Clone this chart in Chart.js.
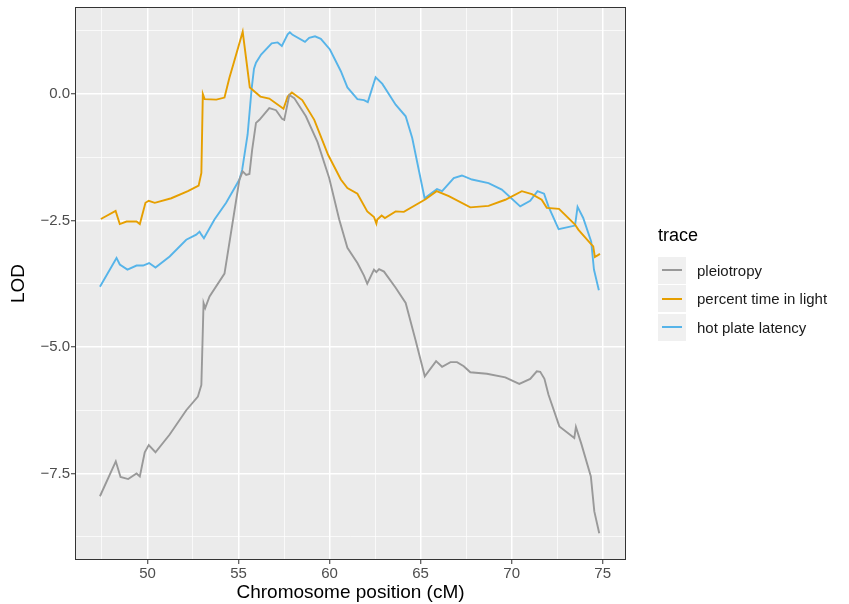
<!DOCTYPE html>
<html>
<head>
<meta charset="utf-8">
<script src="https://cdn.jsdelivr.net/npm/chart.js@4.4.1/dist/chart.umd.min.js"></script>
<style>
    body { margin: 0; background: #ffffff; font-family: "Liberation Sans", Arial, sans-serif; }
    #wrap { position: relative; width: 849px; height: 604px; }
    #legend { position: absolute; left: 658px; top: 222px; }
    #legend .title { font-size: 18px; color: #000; height: 34px; line-height: 26px; }
    #legend .row { display: flex; align-items: center; height: 28.5px; }
    #legend .key { width: 28px; height: 27px; background: #f0f0f0; position: relative; margin-right: 11px; }
    #legend .key span { position: absolute; left: 4px; right: 4px; top: 12.5px; height: 2px; }
    #legend .label { font-size: 15px; color: #1a1a1a; }
</style>
</head>
<body>
<div id="wrap">
    <canvas id="chart" width="849" height="604"></canvas>
    <div id="legend"></div>
</div>
<script>
// chromosome position (cM) and LOD for each trace
const pleioPos = [47.39, 48.26, 48.52, 48.94, 49.4, 49.58, 49.85, 50.07, 50.44, 51.22, 52.13, 52.77, 52.96, 53.08, 53.17, 53.41, 54.23, 55.05, 55.23, 55.42, 55.6, 55.75, 55.96, 56.15, 56.69, 57.06, 57.39, 57.51, 57.79, 58.06, 58.7, 59.34, 59.98, 60.53, 60.98, 61.53, 61.89, 62.07, 62.44, 62.57, 62.72, 62.99, 63.63, 64.18, 64.72, 65.23, 65.85, 66.18, 66.64, 67.0, 67.37, 67.73, 68.64, 69.65, 70.42, 71.02, 71.38, 71.57, 71.8, 72.02, 72.62, 73.44, 73.53, 73.84, 74.35, 74.54, 74.81];
const pleioLod = [-7.95, -7.26, -7.57, -7.61, -7.5, -7.56, -7.08, -6.94, -7.08, -6.73, -6.25, -5.98, -5.75, -4.13, -4.23, -4.0, -3.55, -1.69, -1.53, -1.6, -1.58, -1.1, -0.57, -0.51, -0.28, -0.32, -0.49, -0.51, -0.02, -0.08, -0.44, -0.95, -1.66, -2.48, -3.04, -3.34, -3.59, -3.75, -3.47, -3.52, -3.46, -3.51, -3.83, -4.13, -4.86, -5.58, -5.28, -5.39, -5.3, -5.3, -5.38, -5.5, -5.53, -5.6, -5.73, -5.63, -5.48, -5.49, -5.63, -5.94, -6.57, -6.8, -6.58, -6.93, -7.56, -8.25, -8.68];

const lightPos = [47.44, 48.25, 48.48, 48.85, 49.4, 49.58, 49.89, 50.07, 50.4, 51.31, 52.22, 52.81, 52.96, 53.04, 53.14, 53.78, 54.23, 54.5, 54.74, 55.23, 55.62, 56.2, 56.69, 57.47, 57.7, 57.93, 58.5, 59.16, 59.92, 60.62, 60.98, 61.53, 62.07, 62.44, 62.57, 62.62, 62.86, 63.04, 63.63, 64.08, 65.27, 65.88, 66.55, 67.73, 68.73, 69.65, 70.56, 71.11, 71.65, 71.93, 72.6, 73.48, 73.66, 74.3, 74.48, 74.57, 74.72, 74.85];
const lightLod = [-2.47, -2.31, -2.57, -2.52, -2.52, -2.57, -2.15, -2.11, -2.15, -2.06, -1.92, -1.81, -1.56, 0.0, -0.1, -0.11, -0.07, 0.32, 0.62, 1.23, 0.13, -0.05, -0.09, -0.29, -0.05, 0.03, -0.12, -0.51, -1.2, -1.69, -1.86, -1.97, -2.32, -2.43, -2.56, -2.48, -2.4, -2.45, -2.32, -2.33, -2.08, -1.92, -2.02, -2.24, -2.21, -2.09, -1.92, -1.98, -2.09, -2.25, -2.27, -2.58, -2.68, -2.94, -3.01, -3.22, -3.19, -3.16];

const hotPos = [47.39, 48.3, 48.48, 48.9, 49.4, 49.76, 50.09, 50.44, 51.22, 52.13, 52.68, 52.86, 52.96, 53.1, 53.68, 54.32, 55.05, 55.2, 55.5, 55.72, 55.85, 55.96, 56.24, 56.82, 57.15, 57.38, 57.7, 57.82, 57.97, 58.65, 58.88, 59.2, 59.52, 60.02, 60.62, 60.98, 61.53, 61.89, 62.1, 62.53, 62.9, 63.63, 64.18, 64.54, 65.22, 65.9, 66.18, 66.82, 67.27, 67.82, 68.73, 69.46, 70.47, 71.02, 71.42, 71.78, 72.02, 72.58, 73.48, 73.62, 73.93, 74.37, 74.52, 74.79];
const hotLod = [-3.81, -3.24, -3.37, -3.47, -3.39, -3.39, -3.34, -3.43, -3.21, -2.88, -2.78, -2.72, -2.78, -2.85, -2.48, -2.15, -1.69, -1.5, -0.8, 0.1, 0.5, 0.62, 0.78, 1.0, 1.02, 0.95, 1.18, 1.22, 1.17, 1.03, 1.11, 1.14, 1.09, 0.88, 0.45, 0.13, -0.1, -0.12, -0.16, 0.33, 0.2, -0.21, -0.44, -0.87, -2.06, -1.88, -1.92, -1.66, -1.61, -1.69, -1.76, -1.89, -2.22, -2.11, -1.92, -1.97, -2.22, -2.67, -2.6, -2.23, -2.45, -2.92, -3.47, -3.88];

const traceNames = ["pleiotropy", "percent time in light", "hot plate latency"];
const traceColors = ["#999999", "#E69F00", "#56B4E9"];

const xMajor = [50, 55, 60, 65, 70, 75];
const xMinor = [47.5, 52.5, 57.5, 62.5, 67.5, 72.5];
const yMajor = [0, -2.5, -5, -7.5];
const yMinor = [1.25, -1.25, -3.75, -6.25, -8.75];

const FONT = '"Liberation Sans", Arial, sans-serif';

function toPoints(xs, ys) {
    return xs.map((x, i) => ({ x: x, y: ys[i] }));
}

function setTicks(major, minor) {
    return function(scale) {
        scale.ticks = major.concat(minor).sort((a, b) => a - b).map(v => ({ value: v, major: major.includes(v) }));
    };
}

function isMajor(ctx, list) {
    return ctx.tick && list.includes(ctx.tick.value);
}

// grey panel behind the lines and the dark frame around it
const panelPlugin = {
    id: "panel",
    beforeDraw(chart) {
        const a = chart.chartArea;
        const ctx = chart.ctx;
        ctx.save();
        ctx.fillStyle = "#EBEBEB";
        ctx.fillRect(a.left, a.top, a.right - a.left, a.bottom - a.top);
        ctx.restore();
    },
    afterDraw(chart) {
        const a = chart.chartArea;
        const ctx = chart.ctx;
        ctx.save();
        ctx.strokeStyle = "#333333";
        ctx.lineWidth = 1;
        ctx.strokeRect(a.left + 0.5, a.top + 0.5, a.right - a.left - 1, a.bottom - a.top - 1);
        ctx.restore();
    }
};

const datasets = [
    toPoints(pleioPos, pleioLod),
    toPoints(lightPos, lightLod),
    toPoints(hotPos, hotLod)
].map((pts, i) => ({
    label: traceNames[i],
    data: pts,
    borderColor: traceColors[i],
    backgroundColor: traceColors[i],
    borderWidth: 1.9,
    pointRadius: 0,
    tension: 0,
    fill: false
}));

new Chart(document.getElementById("chart").getContext("2d"), {
    type: "line",
    data: { datasets: datasets },
    plugins: [panelPlugin],
    options: {
        responsive: false,
        animation: false,
        layout: { padding: { left: 0, right: 223, top: 7, bottom: 0 } },
        plugins: {
            legend: { display: false },
            tooltip: { enabled: false }
        },
        scales: {
            x: {
                type: "linear",
                min: 46.02,
                max: 76.28,
                afterBuildTicks: setTicks(xMajor, xMinor),
                afterFit: scale => {
                    scale.height = 44;
                    scale.paddingLeft = 0;
                    scale.paddingRight = 0;
                },
                border: { display: false },
                grid: {
                    color: "#ffffff",
                    lineWidth: ctx => isMajor(ctx, xMajor) ? 1.5 : 0.7,
                    tickLength: 4,
                    tickColor: ctx => isMajor(ctx, xMajor) ? "#333333" : "rgba(0,0,0,0)",
                    tickWidth: 1
                },
                ticks: {
                    autoSkip: false,
                    maxRotation: 0,
                    padding: 1,
                    color: "#4D4D4D",
                    font: { family: FONT, size: 15 },
                    callback: v => xMajor.includes(v) ? String(v) : ""
                },
                title: {
                    display: true,
                    text: "Chromosome position (cM)",
                    color: "#000000",
                    font: { family: FONT, size: 19 },
                    padding: { top: 0, bottom: 0 }
                }
            },
            y: {
                type: "linear",
                min: -9.21,
                max: 1.72,
                afterBuildTicks: setTicks(yMajor, yMinor),
                afterFit: scale => {
                    scale.width = 75;
                    scale.paddingTop = 0;
                    scale.paddingBottom = 0;
                },
                border: { display: false },
                grid: {
                    color: "#ffffff",
                    lineWidth: ctx => isMajor(ctx, yMajor) ? 1.5 : 0.7,
                    tickLength: 4,
                    tickColor: ctx => isMajor(ctx, yMajor) ? "#333333" : "rgba(0,0,0,0)",
                    tickWidth: 1
                },
                ticks: {
                    autoSkip: false,
                    padding: 1,
                    color: "#4D4D4D",
                    font: { family: FONT, size: 15 },
                    callback: v => yMajor.includes(v) ? v.toFixed(1).replace("-", "\u2212") : ""
                },
                title: {
                    display: true,
                    text: "LOD",
                    color: "#000000",
                    font: { family: FONT, size: 19 },
                    padding: { top: 7, bottom: 0 }
                }
            }
        }
    }
});

// legend in the ggplot style, to the right of the panel
let legendHtml = '<div class="title">trace</div>';
traceNames.forEach((name, i) => {
    legendHtml += '<div class="row"><div class="key"><span style="background:' + traceColors[i] + '"></span></div>' +
        '<div class="label">' + name + '</div></div>';
});
document.getElementById("legend").innerHTML = legendHtml;
</script>
</body>
</html>
